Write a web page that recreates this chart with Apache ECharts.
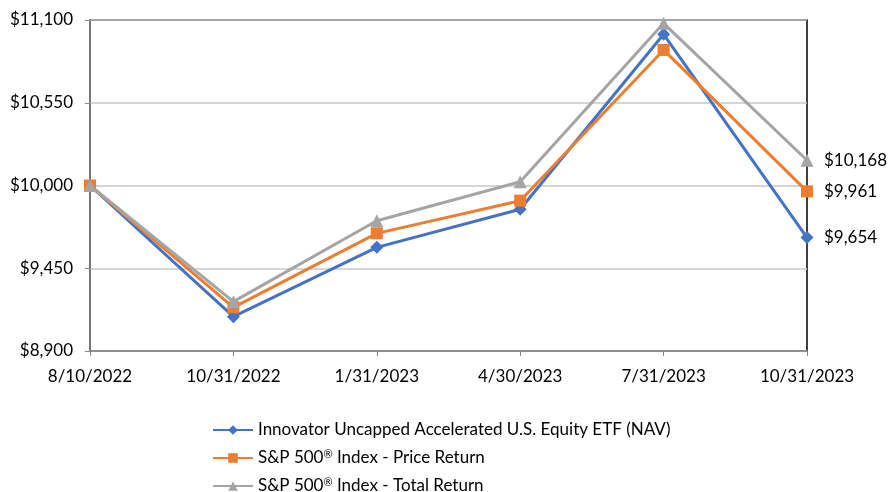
<!DOCTYPE html>
<html>
<head>
<meta charset="utf-8">
<script src="https://cdn.jsdelivr.net/npm/echarts@6/dist/echarts.min.js"></script>
<style>
  html, body { margin: 0; padding: 0; background: #fff; }
  #main { width: 890px; height: 492px; }
</style>
</head>
<body>
<div id="main"></div>
<script>
// x axis dates
const dates = ['8/10/2022', '10/31/2022', '1/31/2023', '4/30/2023', '7/31/2023', '10/31/2023']
// growth of $10,000
const fundNav = [10000, 9128, 9589, 9842, 11005, 9654]
const spPrice = [10000, 9190, 9682, 9899, 10901, 9961]
const spTotal = [10000, 9228, 9766, 10025, 11078, 10168]
const seriesNames = [
  'Innovator Uncapped Accelerated U.S. Equity ETF (NAV)',
  'S&P 500® Index - Price Return',
  'S&P 500® Index - Total Return'
]

const fmt = v => '$' + Math.round(v).toLocaleString('en-US')
const font = 'Lato, "Open Sans", sans-serif'

const makeSeries = (name, data, color, symbol, size) => ({
  name: name,
  type: 'line',
  data: data,
  symbol: symbol,
  symbolSize: size,
  lineStyle: { color: color, width: 3 },
  itemStyle: { color: color },
  endLabel: {
    show: true,
    formatter: p => fmt(p.value),
    color: '#000',
    fontSize: 17,
    fontFamily: font,
    distance: 17
  },
  animation: false
})

const chart = echarts.init(document.getElementById('main'))
chart.setOption({
  grid: { left: 90, right: 83, top: 20, bottom: 141, show: true, borderColor: '#000', borderWidth: 1.5 },
  legend: {
    orient: 'vertical',
    left: 212,
    top: 421,
    height: 120,
    padding: 0,
    itemGap: 10,
    itemWidth: 40,
    itemHeight: 12,
    textStyle: {
      fontSize: 17, fontFamily: font, color: '#000', lineHeight: 18,
      rich: { sup: { fontSize: 11, fontFamily: font, color: '#000', lineHeight: 18, verticalAlign: 'top' } }
    },
    formatter: name => name.replace('®', '{sup|®}'),
    data: seriesNames
  },
  xAxis: {
    type: 'category',
    data: dates,
    boundaryGap: false,
    axisLine: { lineStyle: { color: '#888', width: 1.5 } },
    axisTick: { show: true, length: 5, lineStyle: { color: '#888' } },
    axisLabel: { color: '#000', fontSize: 17, fontFamily: font, margin: 17 }
  },
  yAxis: {
    type: 'value',
    min: 8900,
    max: 11100,
    interval: 550,
    axisLine: { show: true, lineStyle: { color: '#888', width: 1.5 } },
    axisTick: { show: true, length: 5, inside: false, lineStyle: { color: '#888' } },
    splitLine: { lineStyle: { color: '#c8c8c8', width: 1.5 } },
    axisLabel: { color: '#000', fontSize: 17, fontFamily: font, margin: 17, formatter: fmt }
  },
  series: [
    makeSeries(seriesNames[0], fundNav, '#4472C4', 'diamond', 13),
    makeSeries(seriesNames[1], spPrice, '#ED7D31', 'rect', 12),
    makeSeries(seriesNames[2], spTotal, '#A5A5A5', 'triangle', 13)
  ]
})
</script>
</body>
</html>
